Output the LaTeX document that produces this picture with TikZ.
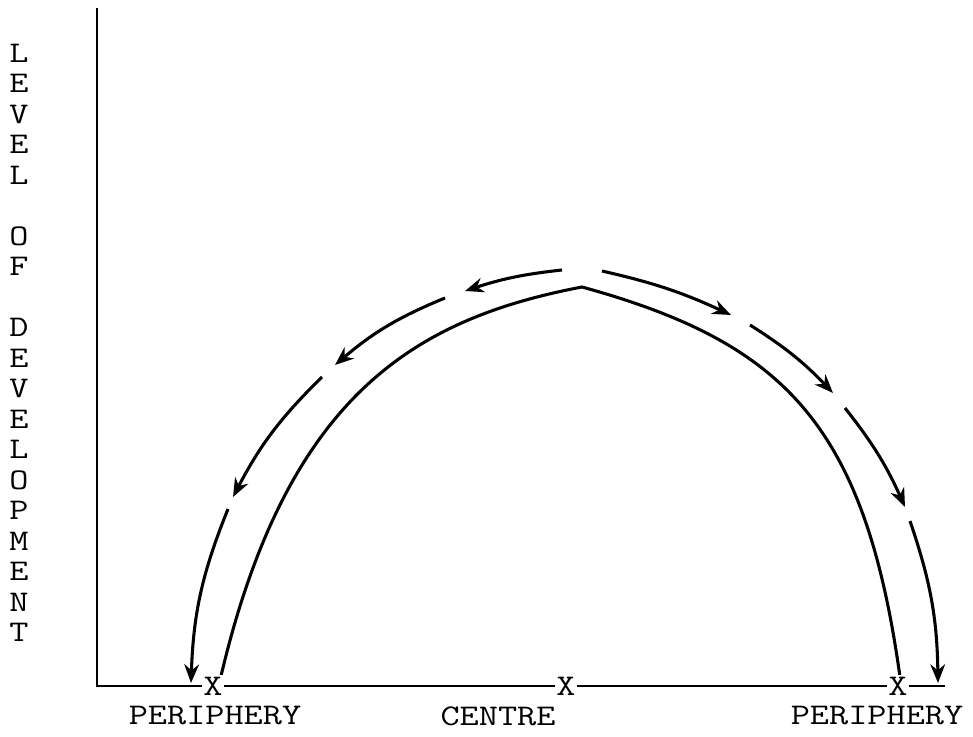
\documentclass[tikz,border=0pt]{standalone}
\usepackage{graphicx}
\usetikzlibrary{arrows.meta}
\newcommand{\tw}[1]{\scalebox{1.24}[1]{\ttfamily #1}}
\begin{document}
\begin{tikzpicture}[x=0.75pt,y=-0.75pt,
  axisline/.style={line width=1.5pt},
  arcline/.style={line width=2.3pt},
  flowarrow/.style={line width=2.3pt,-{Stealth[length=14pt,width=11pt]}},
  lbl/.style={font=\fontsize{22.5}{24}\selectfont, inner sep=0pt},
  xmark/.style={font=\fontsize{22.5}{24}\selectfont, inner sep=1.2pt, fill=white}]
\useasboundingbox (0,0) rectangle (973,737);
\fill[white] (0,0) rectangle (973,737);
% axes
\coordinate (top) at (97,8);
\coordinate (orig) at (97,686);
\coordinate (xend) at (945,686);
\draw[axisline] (top) -- (orig) -- (xend);
% vertical label
\foreach \i/\l in {0/L,1/E,2/V,3/E,4/L,6/O,7/F,9/D,10/E,11/V,12/E,13/L,14/O,15/P,16/M,17/E,18/N,19/T}
  \node[lbl] (v\i) at (19,{53+\i*30.5}) {\tw{\l}};
% inner arc
\coordinate (footL) at (221,676);
\coordinate (apex) at (582,287);
\coordinate (footR) at (900,677);
\draw[arcline] (footL) .. controls (287,396) and (414,319) .. (apex)
  .. controls (785,343) and (865,425) .. (footR);
% outer arrows, left side
\coordinate (L1s) at (562,270); \coordinate (L1e) at (465,291);
\coordinate (L2s) at (445,298); \coordinate (L2e) at (335,365);
\coordinate (L3s) at (322,377); \coordinate (L3e) at (233,497);
\coordinate (L4s) at (228,509); \coordinate (L4e) at (191,683);
\draw[flowarrow] (L1s) to[bend right=6] (L1e);
\draw[flowarrow] (L2s) to[bend right=9] (L2e);
\draw[flowarrow] (L3s) to[bend right=9] (L3e);
\draw[flowarrow] (L4s) to[bend right=10] (L4e);
% outer arrows, right side
\coordinate (R1s) at (602,271); \coordinate (R1e) at (731,315);
\coordinate (R2s) at (750,325); \coordinate (R2e) at (833,393);
\coordinate (R3s) at (845,408); \coordinate (R3e) at (905,507);
\coordinate (R4s) at (910,521); \coordinate (R4e) at (938,683);
\draw[flowarrow] (R1s) to[bend left=6] (R1e);
\draw[flowarrow] (R2s) to[bend left=7] (R2e);
\draw[flowarrow] (R3s) to[bend left=7] (R3e);
\draw[flowarrow] (R4s) to[bend left=9] (R4e);
% X marks
\node[xmark] (xL) at (213,686) {\tw{X}};
\node[xmark] (xC) at (566,686) {\tw{X}};
\node[xmark] (xR) at (898,686) {\tw{X}};
% bottom labels
\node[lbl] (perL) at (215,716) {\tw{PERIPHERY}};
\node[lbl] (cen) at (498,716) {\tw{CENTRE}};
\node[lbl] (perR) at (877,716) {\tw{PERIPHERY}};
\end{tikzpicture}
\end{document}
